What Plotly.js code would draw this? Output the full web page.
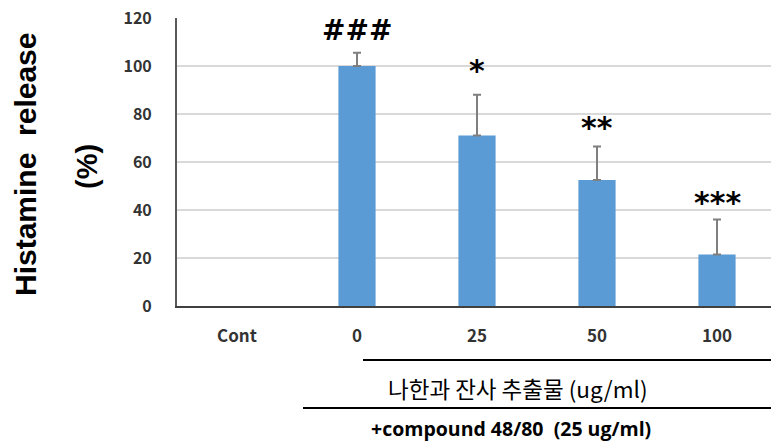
<!DOCTYPE html>
<html>
<head>
<meta charset="utf-8">
<script src="https://cdn.plot.ly/plotly-3.0.1.min.js"></script>
<style>
  html, body { margin: 0; padding: 0; background: #ffffff; }
  #chart { width: 772px; height: 443px; }
</style>
</head>
<body>
<div id="chart"></div>
<script>
// Histamine release by treatment group
const groups = ['Cont', '0', '25', '50', '100'];
const release = [null, 100, 71, 52.5, 21.5];
const releaseErr = [null, 5.5, 17, 14, 14.5];
const signif = ['', '###', '*', '**', '***'];
const signifY = [null, 115, 98, 74.5, 43];

const tickFontY = { family: 'Noto Sans CJK KR, Open Sans, sans-serif', size: 16, color: '#333333', weight: 'bold' };
const tickFontX = { family: 'Noto Sans CJK KR, Open Sans, sans-serif', size: 17, color: '#333333', weight: 'bold' };

const bars = {
  type: 'bar',
  x: groups,
  y: release,
  marker: { color: '#5b9bd5' },
  error_y: {
    type: 'data',
    array: releaseErr,
    visible: true,
    symmetric: false,
    arrayminus: release.map(() => 0),
    color: '#7f7f7f',
    thickness: 2,
    width: 4
  },
  hoverinfo: 'skip'
};

const annotations = [];
// significance marks, placed by category index
groups.forEach((g, i) => {
  if (signif[i]) {
    annotations.push({
      x: i, y: signifY[i], xref: 'x', yref: 'y',
      xanchor: 'center', yanchor: 'middle',
      text: '<b>' + signif[i] + '</b>', showarrow: false,
      font: { family: 'DejaVu Sans, sans-serif', size: i === 1 ? 28 : 30, color: '#000000' }
    });
  }
});

// Y-axis title in two rotated lines
annotations.push({
  xref: 'paper', yref: 'paper', x: (25 - 177) / 594, y: (306 - 165) / 288,
  xanchor: 'center', yanchor: 'middle',
  text: '<b>Histamine  release</b>', textangle: -90, showarrow: false,
  font: { family: 'Liberation Sans, Arial, sans-serif', size: 30, color: '#000000' }
});
annotations.push({
  xref: 'paper', yref: 'paper', x: (87 - 177) / 594, y: (306 - 167) / 288,
  xanchor: 'center', yanchor: 'middle',
  text: '<b>(%)</b>', textangle: -90, showarrow: false,
  font: { family: 'Liberation Sans, Arial, sans-serif', size: 29, color: '#000000' }
});

// Treatment labels below the axis
annotations.push({
  xref: 'paper', yref: 'paper', x: (518 - 177) / 594, y: (306 - 388) / 288,
  xanchor: 'center', yanchor: 'middle',
  text: '나한과 잔사 추출물 (ug/ml)', showarrow: false,
  font: { family: 'Noto Sans CJK KR, sans-serif', size: 22.5, color: '#000000' }
});
annotations.push({
  xref: 'paper', yref: 'paper', x: (511 - 177) / 594, y: (306 - 428) / 288,
  xanchor: 'center', yanchor: 'middle',
  text: '<b>+compound 48/80  (25 ug/ml)</b>', showarrow: false,
  font: { family: 'Open Sans, sans-serif', size: 19.5, color: '#000000' }
});

const shapes = [
  { type: 'line', xref: 'x', yref: 'paper', x0: 1.05, x1: 4.6, y0: (306 - 360) / 288, y1: (306 - 360) / 288,
    line: { color: '#000000', width: 2 } },
  { type: 'line', xref: 'x', yref: 'paper', x0: 0.55, x1: 4.6, y0: (306 - 408) / 288, y1: (306 - 408) / 288,
    line: { color: '#000000', width: 2 } }
];

const layout = {
  width: 772,
  height: 443,
  margin: { l: 177, r: 1, t: 18, b: 137 },
  paper_bgcolor: '#ffffff',
  plot_bgcolor: '#ffffff',
  showlegend: false,
  bargap: 0.69,
  xaxis: {
    type: 'category',
    range: [-0.5, 4.45],
    showgrid: false,
    showline: true,
    linecolor: '#404040',
    linewidth: 2,
    ticks: '',
    tickfont: tickFontX,
    ticklabelstandoff: 14,
    fixedrange: true
  },
  yaxis: {
    range: [0, 120],
    dtick: 20,
    showgrid: true,
    gridcolor: '#d9d9d9',
    gridwidth: 1.5,
    showline: true,
    linecolor: '#595959',
    linewidth: 2,
    zeroline: false,
    ticks: '',
    tickfont: tickFontY,
    ticklabelstandoff: 20,
    fixedrange: true
  },
  annotations: annotations,
  shapes: shapes
};

Plotly.newPlot('chart', [bars], layout, { displayModeBar: false, staticPlot: true });
</script>
</body>
</html>
